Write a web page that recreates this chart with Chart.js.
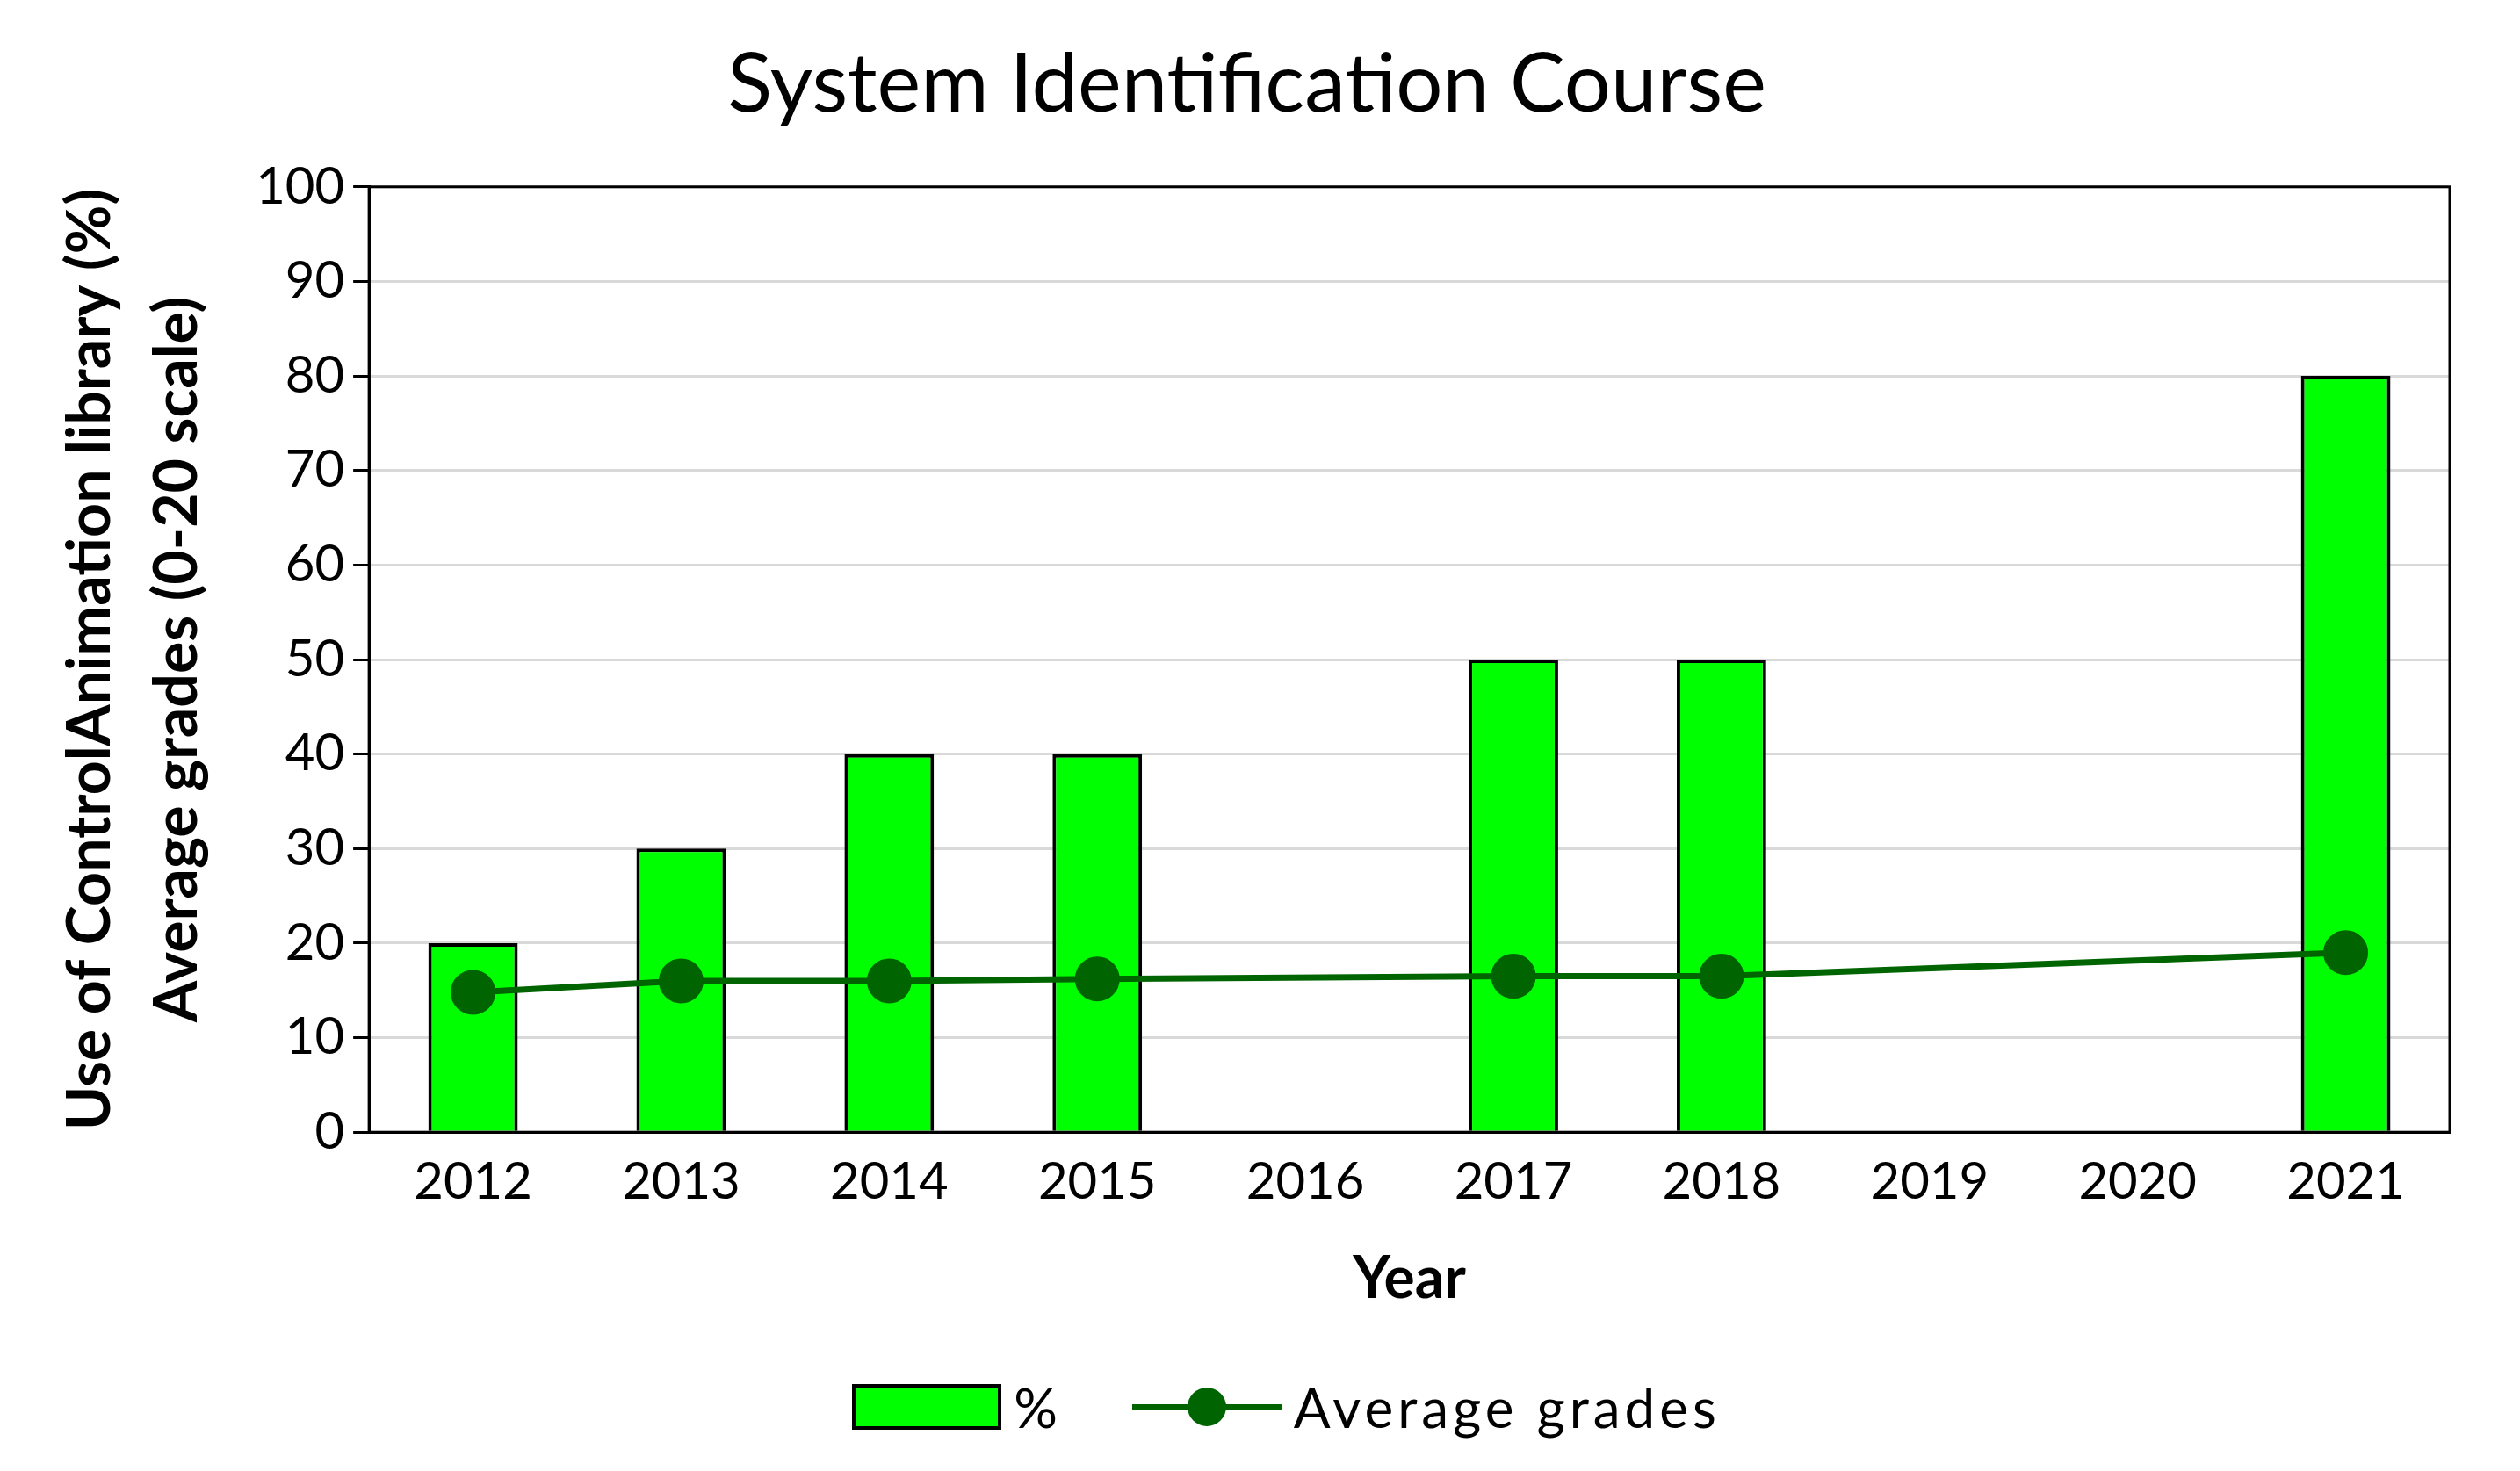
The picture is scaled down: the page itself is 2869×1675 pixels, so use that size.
<!DOCTYPE html>
<html>
<head>
<meta charset="utf-8">
<script src="https://cdn.jsdelivr.net/npm/chart.js@4"></script>
<style>
  html, body { margin: 0; padding: 0; background: #fff; }
  #wrap { position: relative; width: 2869px; height: 1675px; }
  #legend { position: absolute; left: 0; width: 2869px; top: 1565px; display: flex; justify-content: center; align-items: center; padding-left: 60px; box-sizing: border-box; font-family: Lato, sans-serif; font-size: 62px; color: #000; letter-spacing: 5px; }
  .box { width: 162px; height: 44px; background: #00ff00; border: 4px solid #000; margin-right: 14px; }
  .ln { position: relative; width: 170px; height: 7px; background: #006400; margin: 0 14px 0 80px; }
  .ln::after { content: ''; position: absolute; left: 63px; top: -19px; width: 44px; height: 44px; border-radius: 50%; background: #006400; }
</style>
</head>
<body>
<div id="wrap">
  <canvas id="chart" width="2869" height="1675"></canvas>
  <div id="legend"><div class="box"></div><span>%</span><div class="ln"></div><span>Average grades</span></div>
</div>
<script>
// Kategoriler ve seriler
const years = ['2012', '2013', '2014', '2015', '2016', '2017', '2018', '2019', '2020', '2021'];
const usagePct = [20, 30, 40, 40, null, 50, 50, null, null, 80];
const avgGrades = [14.8, 16, 16, 16.2, null, 16.5, 16.5, null, null, 19];

const FONT = 'Lato, sans-serif';

// Plot alanının siyah çerçevesi
const plotBorder = {
    id: 'plotBorder',
    afterDatasetsDraw(chart) {
        const { ctx, chartArea: a } = chart;
        ctx.save();
        ctx.strokeStyle = '#000';
        ctx.lineWidth = 3;
        ctx.strokeRect(a.left, a.top, a.right - a.left, a.bottom - a.top);
        ctx.restore();
    }
};

new Chart(document.getElementById('chart'), {
    data: {
        labels: years,
        datasets: [
            {
                type: 'line',
                label: 'Average grades',
                data: avgGrades,
                borderColor: '#006400',
                backgroundColor: '#006400',
                borderWidth: 7,
                pointRadius: 22,
                pointHoverRadius: 22,
                spanGaps: true,
                order: 0
            },
            {
                type: 'bar',
                label: '%',
                data: usagePct,
                backgroundColor: '#00ff00',
                borderColor: '#000',
                borderWidth: 4,
                barPercentage: 0.43,
                categoryPercentage: 1,
                order: 1
            }
        ]
    },
    options: {
        responsive: false,
        animation: false,
        layout: { padding: { left: 50, right: 80, top: 10, bottom: 175 } },
        plugins: {
            legend: { display: false },
            tooltip: { enabled: false },
            title: {
                display: true,
                text: 'System Identification Course',
                color: '#000',
                font: { family: FONT, size: 94, weight: 'normal' },
                padding: { top: 30, bottom: 60 }
            }
        },
        scales: {
            x: {
                grid: { display: false },
                border: { color: '#000', width: 3 },
                ticks: { color: '#000', font: { family: FONT, size: 58 }, padding: 14 },
                title: { display: true, text: 'Year', color: '#000', font: { family: FONT, size: 66, weight: 'bold' }, padding: { top: 22 } }
            },
            y: {
                min: 0,
                max: 100,
                grid: { color: '#d9d9d9', lineWidth: 3, tickLength: 18, tickColor: '#000' },
                border: { color: '#000', width: 3 },
                ticks: { stepSize: 10, color: '#000', font: { family: FONT, size: 58 }, padding: 10 },
                title: {
                    display: true,
                    text: ['Use of ControlAnimation library (%)', 'Average grades (0-20 scale)'],
                    color: '#000',
                    font: { family: FONT, size: 68, weight: 'bold', lineHeight: 1.45 },
                    padding: { bottom: 30 }
                }
            }
        }
    },
    plugins: [plotBorder]
});
</script>
</body>
</html>
